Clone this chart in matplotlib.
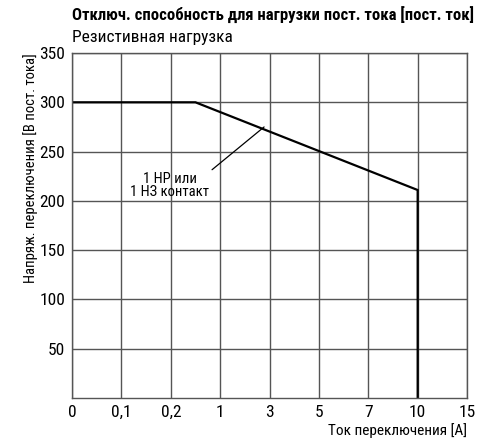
import matplotlib
matplotlib.use("Agg")
import matplotlib.pyplot as plt

plt.rcParams['font.family'] = ['Roboto Condensed', 'DejaVu Sans']

x_labels = ["0", "0,1", "0,2", "1", "3", "5", "7", "10", "15"]
y_ticks = [50, 100, 150, 200, 250, 300, 350]
# curve in category-index coordinates
curve_x = [0, 2.5, 7, 7]
curve_y = [300, 300, 211, 0]

fig = plt.figure(figsize=(4.8, 4.43), dpi=100)
ax = fig.add_axes([0.15, 0.1016, 0.823, 0.7787])
ax.set_xlim(0, 8)
ax.set_ylim(0, 350)
ax.set_xticks(range(len(x_labels)))
ax.set_xticklabels(x_labels)
ax.set_yticks(y_ticks)
ax.tick_params(length=0, labelsize=12.5, pad=5)
ax.grid(True, color='#555555', linewidth=1)
ax.set_axisbelow(True)
for s in ax.spines.values():
    s.set_color('#555555')
    s.set_linewidth(1)

ax.plot(curve_x, curve_y, color='black', linewidth=1.6, solid_joinstyle='miter')

ax.annotate("1 НР или\n1 НЗ контакт", xy=(3.89, 275), xytext=(1.98, 202),
            ha='center', va='bottom', fontsize=10.5, linespacing=0.9,
            arrowprops=dict(arrowstyle='-', color='black', linewidth=0.9,
                            shrinkA=0, shrinkB=0, relpos=(1.0, 1.0)))

ax.set_xlabel("Ток переключения [A]", loc='right', fontsize=11, labelpad=2)
ax.set_ylabel("Напряж. переключения [В пост. тока]", loc='top', fontsize=10.5, labelpad=1)

fig.text(0.15, 0.965, "Отключ. способность для нагрузки пост. тока [пост. ток]",
         fontsize=12, fontweight='bold', va='center', ha='left')
fig.text(0.15, 0.915, "Резистивная нагрузка", fontsize=12.5, va='center', ha='left')

fig.savefig("out.png", dpi=100)
